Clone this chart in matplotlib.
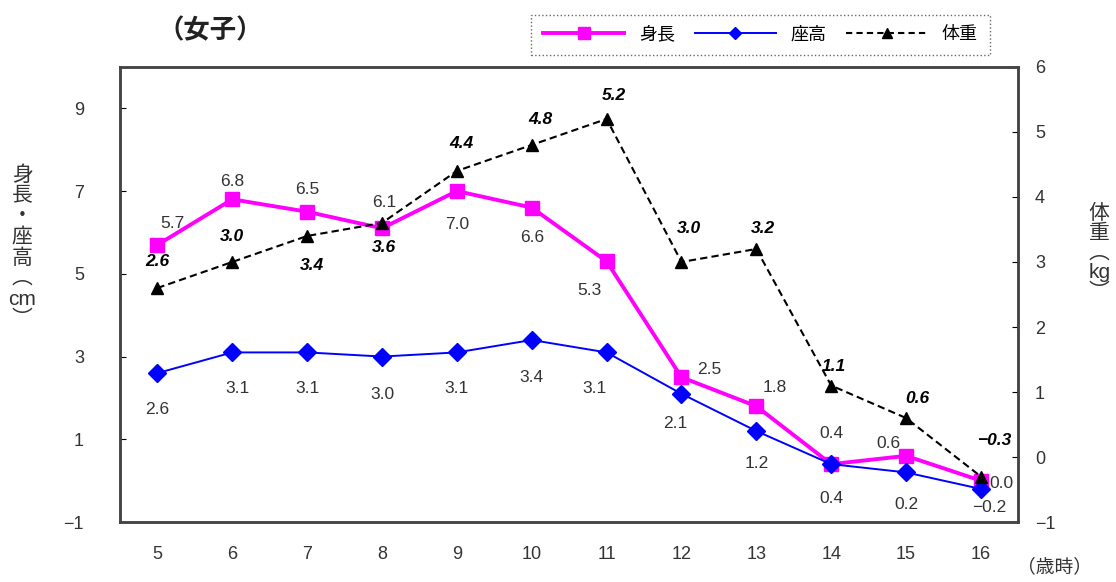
import matplotlib
matplotlib.use('Agg')
import matplotlib.pyplot as plt
from matplotlib.lines import Line2D

plt.rcParams['font.family'] = ['Liberation Sans', 'Noto Sans CJK JP', 'DejaVu Sans']
plt.rcParams['axes.unicode_minus'] = True

# data
ages = [5, 6, 7, 8, 9, 10, 11, 12, 13, 14, 15, 16]
height = [5.7, 6.8, 6.5, 6.1, 7.0, 6.6, 5.3, 2.5, 1.8, 0.4, 0.6, 0.0]
sitting = [2.6, 3.1, 3.1, 3.0, 3.1, 3.4, 3.1, 2.1, 1.2, 0.4, 0.2, -0.2]
weight = [2.6, 3.0, 3.4, 3.6, 4.4, 4.8, 5.2, 3.0, 3.2, 1.1, 0.6, -0.3]
left_ticks = [-1, 1, 3, 5, 7, 9]
right_ticks = [-1, 0, 1, 2, 3, 4, 5, 6]

# label offsets (pixels) for each point
height_off = [(15, 21), (0, 18), (0, 22), (2, 26), (0, -33), (0, -30),
              (-17, -29), (28, 8), (18, 19), (0, 31), (-18, 12), (21, -3)]
sitting_off = [(0, -36), (5, -36), (0, -36), (0, -38), (0, -36), (0, -37),
               (-12, -36), (-6, -30), (0, -32), (0, -34), (0, -32), (8, -19)]
weight_off = [(0, 26), (0, 25), (5, -30), (2, -25), (4, 27), (9, 25),
              (7, 23), (7, 33), (7, 20), (3, 19), (11, 20), (14, 36)]

fig = plt.figure(figsize=(11.16, 5.82), dpi=100)
ax = fig.add_axes([0.1075, 0.103, 0.805, 0.782])
ax2 = ax.twinx()

def fmt(v):
    return f"{v:.1f}".replace('-', '\u2212')

ax.plot(ages, height, color='#ff00ff', lw=2.8, marker='s', ms=10, zorder=3)
ax.plot(ages, sitting, color='#0000ff', lw=1.4, marker='D', ms=9, zorder=4)
ax2.plot(ages, weight, color='black', lw=1.5, ls=(0, (3.5, 2)), marker='^', ms=9, zorder=5)

for x, v, o in zip(ages, height, height_off):
    ax.annotate(fmt(v), (x, v), xytext=o, textcoords='offset pixels',
                ha='center', va='center', fontsize=12.5, color='#333333')
for x, v, o in zip(ages, sitting, sitting_off):
    ax.annotate(fmt(v), (x, v), xytext=o, textcoords='offset pixels',
                ha='center', va='center', fontsize=12.5, color='#333333')
for x, v, o in zip(ages, weight, weight_off):
    ax2.annotate(fmt(v), (x, v), xytext=o, textcoords='offset pixels',
                 ha='center', va='center', fontsize=12.5, color='black',
                 fontstyle='italic', fontweight='bold')

ax.set_xlim(4.5, 16.5)
ax.set_ylim(-1, 10)
ax2.set_ylim(-1, 6)
ax.set_xticks(ages)
ax.set_yticks(left_ticks)
ax2.set_yticks(right_ticks)
ax.set_yticklabels([fmt(t).replace('.0', '') for t in left_ticks])
ax2.set_yticklabels([fmt(t).replace('.0', '') for t in right_ticks])
ax.tick_params(axis='x', length=0, pad=17, labelsize=13, labelcolor='#333333')
ax.tick_params(axis='y', direction='in', length=4, pad=26, labelsize=13, labelcolor='#333333')
ax2.tick_params(axis='y', direction='in', length=4, pad=12, labelsize=13, labelcolor='#333333')
for a in (ax, ax2):
    for s in a.spines.values():
        s.set_color('#444444')
        s.set_linewidth(1.8)

# axis labels written vertically
fig.text(0.02, 0.575, "身\n長\n・\n座\n高\n︵\ncm\n︶", ha='center', va='center',
         fontsize=15, color='#333333', linespacing=1.1)
fig.text(0.985, 0.565, "体\n重\n︵\nkg\n︶", ha='center', va='center',
         fontsize=15, color='#333333', linespacing=1.05)
fig.text(0.945, 0.025, "（歳時）", ha='center', va='center', fontsize=13.5, color='#333333')
fig.text(0.188, 0.948, "（女子）", ha='center', va='center', fontsize=19, fontweight='bold',
         color='#222222')

handles = [
    Line2D([], [], color='#ff00ff', lw=2.8, marker='s', ms=9),
    Line2D([], [], color='#0000ff', lw=1.4, marker='D', ms=6),
    Line2D([], [], color='black', lw=1.5, ls=(0, (3, 2)), marker='^', ms=7),
]
leg = fig.legend(handles, ['身長', '座高', '体重'], loc='center',
                 bbox_to_anchor=(0.6815, 0.94), ncol=3, fontsize=13,
                 handlelength=4.5, columnspacing=1.1, frameon=True, fancybox=False,
                 borderpad=0.65)
leg.get_frame().set_edgecolor('#444444')
leg.get_frame().set_linestyle(':')
leg.get_frame().set_linewidth(1.0)

fig.savefig('out.png', dpi=100)
